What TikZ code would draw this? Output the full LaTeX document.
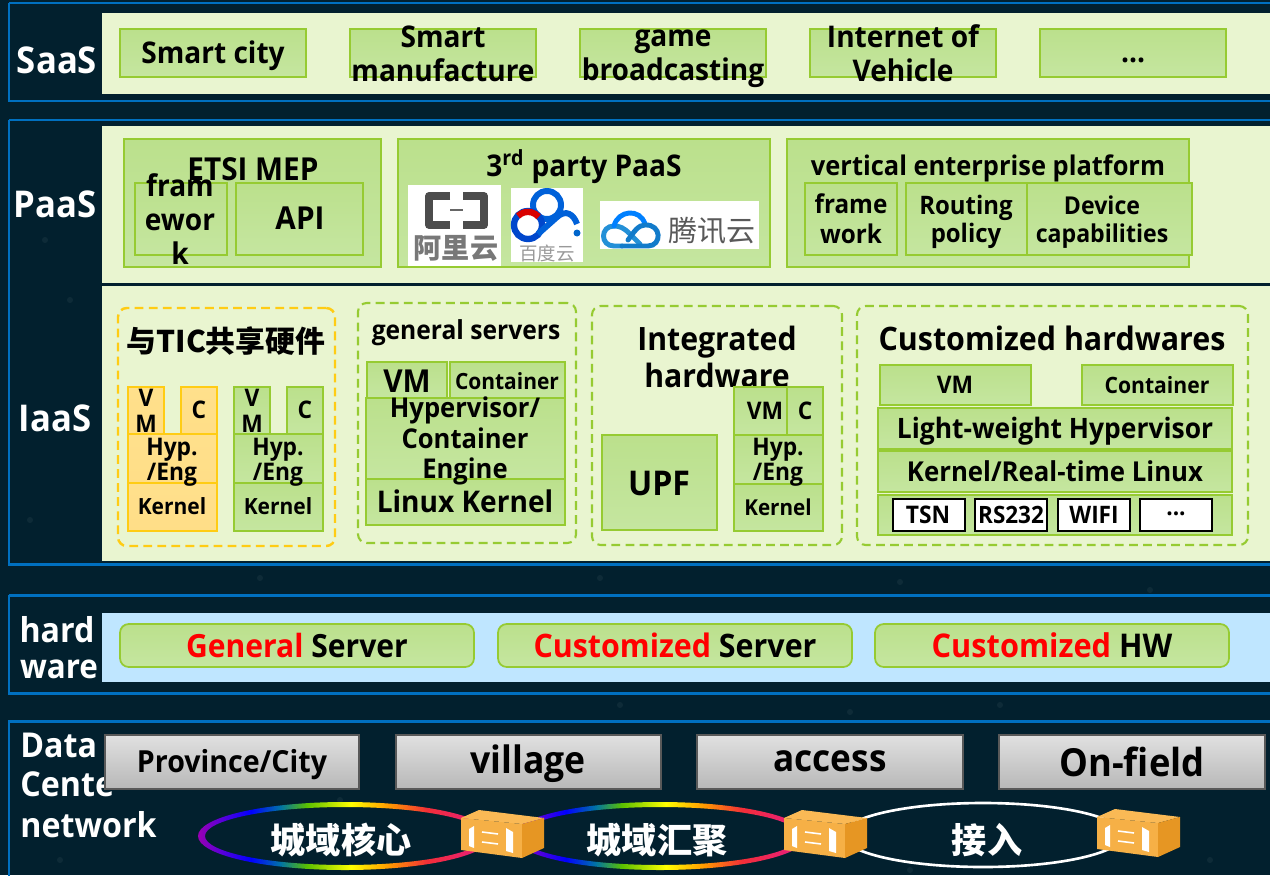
\documentclass[tikz,border=0pt]{standalone}
\usepackage{fontspec}
\setmainfont{Open Sans}[FakeStretch=0.94]
\newfontfamily\cjk{Noto Sans CJK SC}
\usetikzlibrary{calc}
\definecolor{bgc}{RGB}{2,32,46}
\definecolor{framec}{RGB}{0,112,192}
\definecolor{panelg}{RGB}{233,245,208}
\definecolor{panelb}{RGB}{191,230,255}
\definecolor{gborder}{RGB}{150,203,50}
\definecolor{gtop}{RGB}{187,224,140}
\definecolor{gbot}{RGB}{197,230,160}
\definecolor{ytop}{RGB}{255,224,140}
\definecolor{ybot}{RGB}{255,222,135}
\definecolor{yborder}{RGB}{255,204,20}
\definecolor{logog}{RGB}{120,120,120}
\definecolor{boxor}{RGB}{246,176,70}
\definecolor{boxdk}{RGB}{230,150,35}
\definecolor{boxtp}{RGB}{250,185,85}
\definecolor{rga}{rgb}{0.6,0,0.7}
\definecolor{rgb}{rgb}{0.35,0,0.85}
\definecolor{rgc}{rgb}{0,0,1}
\definecolor{rgd}{rgb}{0,0.45,0.65}
\definecolor{rge}{rgb}{0.35,0.75,0}
\definecolor{rgf}{rgb}{1,1,0}
\definecolor{rgg}{rgb}{1,0.6,0}
\definecolor{rgh}{rgb}{0.95,0.18,0.22}
\definecolor{rgi}{rgb}{0.9,0.1,0.55}
\pgfdeclarehorizontalshading{rainbowring}{100bp}{
  color(0bp)=(rga);
  color(25bp)=(rga);
  color(29bp)=(rgb);
  color(34bp)=(rgc);
  color(39bp)=(rgd);
  color(43.5bp)=(rge);
  color(51bp)=(rgf);
  color(57.5bp)=(rgg);
  color(64bp)=(rgh);
  color(75bp)=(rgi);
  color(100bp)=(rgi)}
\tikzset{
  frameb/.style={draw=framec,line width=1.7pt},
  gbox/.style={draw=gborder,line width=1pt,top color=gtop,bottom color=gbot,inner sep=0pt},
  ybox/.style={draw=yborder,line width=1pt,top color=ytop,bottom color=ybot,inner sep=0pt},
  rbox/.style={gbox,rounded corners=5pt},
  wbox/.style={draw=black,line width=1pt,fill=white,inner sep=0pt},
  dbox/.style={draw=black!65,line width=1pt,top color=black!12,bottom color=black!28,inner sep=0pt},
  dashg/.style={draw=gborder,line width=1.2pt,dashed,dash pattern=on 5pt off 3pt,rounded corners=5pt,inner sep=0pt},
  dashy/.style={draw=yborder,line width=1.4pt,dashed,dash pattern=on 5pt off 3pt,rounded corners=5pt,inner sep=0pt},
  logobg/.style={fill=white,inner sep=0pt},
  ptext/.style={inner sep=0pt,align=center,text=black},
  wtext/.style={inner sep=0pt,align=center,text=white},
  swbox/.pic={
    \fill[boxor] (0,8)--(61,14)--(61,48)--(0,40)--cycle;
    \fill[boxtp] (0,8)--(18,0)--(83,8)--(61,14)--cycle;
    \fill[boxdk] (61,14)--(83,8)--(83,38)--(61,48)--cycle;
    \fill[white] (8,19)--(13,16)--(13,38)--(8,36)--cycle;
    \fill[white] (45,18)--(52,22)--(52,43)--(45,41)--cycle;
    \draw[white,line width=.9pt] (21,22)--(37,24) (21,32)--(37,34);
  }
}
\newcommand\bx[6]{\pgfmathsetmacro\bw{(#5-#3)*0.02}\pgfmathsetmacro\bh{(#6-#4)*0.02}
  \node[#1,minimum width=\bw cm,minimum height=\bh cm] (#2) at ({(#3+#5)/2},{(#4+#6)/2}) {};}
\newcommand\tx[7][ptext]{\node[#1,font=\fontsize{#5pt}{#6pt}\selectfont\bfseries] (#2) at (#3,#4) {#7};}
\begin{document}
\begin{tikzpicture}[x=0.02cm,y=-0.02cm]
\useasboundingbox (0,0) rectangle (1270,875);
\fill[bgc] (0,0) rectangle (1270,875);
\foreach \sx/\sy in {45/240,70/300,30/520,620/705,850/712,1150/590,1000/705,340/800,910/870,60/860,1210/860,600/578,260/578,900/582}
  \fill[white,opacity=.05] (\sx,\sy) circle (3);
% frames
\draw[frameb] (9,3) -- (1272,3) (1272,101) -- (9,101) -- (9,3);
\draw[frameb] (9,120) -- (1272,120) (1272,564) -- (9,564) -- (9,120);
\draw[frameb] (9,595) -- (1272,595) (1272,693) -- (9,693) -- (9,595);
\draw[frameb] (9,877) -- (9,721) -- (1272,721);
% panels
\fill[panelg] (102,13) rectangle (1270,94);
\fill[panelg] (102,126) rectangle (1270,283);
\fill[panelg] (102,286) rectangle (1270,561);
\fill[panelb] (102,613) rectangle (1270,682);
% side labels
\tx[wtext]{lsaas}{57}{60}{21}{24}{SaaS}
\tx[wtext]{lpaas}{55}{204}{21}{24}{PaaS}
\tx[wtext]{liaas}{55}{418}{21}{24}{IaaS}
\tx[wtext]{lhard}{57}{630}{19.5}{22}{hard}
\tx[wtext]{lware}{59}{669}{19}{22}{ware}
\node[wtext,anchor=west,font=\fontsize{19.5pt}{22pt}\selectfont\bfseries] (ldata) at (20,745) {Data};
\node[wtext,anchor=west,font=\fontsize{19.5pt}{22pt}\selectfont\bfseries] (lcent) at (20,784) {Cente};
\node[wtext,anchor=west,font=\fontsize{19.5pt}{22pt}\selectfont\bfseries] (lnet) at (20,825) {network};
% SaaS
\bx{gbox}{s1}{120}{29}{306}{77}
\bx{gbox}{s2}{350}{29}{536}{77}
\bx{gbox}{s3}{580}{29}{766}{77}
\bx{gbox}{s4}{810}{29}{996}{77}
\bx{gbox}{s5}{1040}{29}{1226}{77}
\tx{ts1}{213}{56}{17}{19}{Smart city}
\tx{ts2}{443}{54}{17}{19}{Smart\\[.5pt]manufacture}
\tx{ts3}{673}{59}{17}{19}{game\\[.5pt]broadcasting}
\tx{ts4}{903}{53.5}{17}{19}{Internet of\\[.5pt]Vehicle}
\tx{ts5}{1133}{60}{17}{19}{...}
% PaaS
\bx{gbox}{p1}{124}{139}{381}{267}
\bx{gbox}{p1a}{135}{183}{227}{255}
\bx{gbox}{p1b}{236}{183}{363}{255}
\tx{tp1}{253}{169}{18}{19}{ETSI MEP}
\tx{tp1a}{180}{219}{17}{19.5}{fram\\ewor\\k}
\tx{tp1b}{300}{218}{18}{19}{API}
\bx{gbox}{p2}{398}{139}{770}{267}
\tx{tp2}{584}{167}{17}{19}{3\textsuperscript{rd} party PaaS}
\bx{gbox}{p3}{787}{139}{1189}{267}
\bx{gbox}{p3a}{805}{183}{897}{255}
\bx{gbox}{p3b}{906}{183}{1027}{255}
\bx{gbox}{p3c}{1027}{183}{1192}{255}
\tx{tp3}{988}{168.5}{15.4}{19}{vertical enterprise platform}
\tx{tp3a}{851}{219}{14.7}{17}{frame\\work}
\tx{tp3b}{966}{222}{14.5}{16}{Routing\\policy}
\tx{tp3c}{1102}{222}{14}{16}{Device\\capabilities}
% logos
\bx{logobg}{ali}{408}{185}{501}{266}
\draw[black!70,line width=4.4pt,line join=round] (450,196)--(429,196)--(429,225)--(450,225);
\draw[black!70,line width=4.4pt,line join=round] (463,196)--(484,196)--(484,225)--(463,225);
\draw[black!60,line width=.8pt] (450,210)--(463,210);
\node[inner sep=0pt,text=logog,font=\cjk\fontsize{16pt}{16pt}\selectfont\bfseries] (alit) at (456,248) {阿里云};
\bx{logobg}{bai}{511}{188}{583}{262}
\draw[blue!55!cyan!85!black,line width=3.4pt] (547,205) circle (14);
\draw[blue!65!cyan!80!black,line width=3.6pt] (528,225) circle (14);
\draw[red!85!black,line width=3.6pt] (518,216) arc (225:320:14);
\draw[blue!55!cyan!85!black,line width=3.4pt] (538,234) -- (556,218) .. controls (566,208) and (574,215) .. (577,224);
\fill[blue!50!cyan!80!black] (577,233) circle (3.5);
\node[inner sep=0pt,text=black!40,font=\cjk\fontsize{10.5pt}{11pt}\selectfont] (bait) at (547,253) {百度云};
\bx{logobg}{ten}{600}{201}{759}{249}
\draw[cyan!70!blue!90,line width=2.8pt,line cap=round] (622,246) -- (614,246) .. controls (600,246) and (600,226) .. (614,226) .. controls (620,226) and (624,228) .. (630,234) -- (640,244);
\draw[blue!50!cyan,line width=2.8pt,line cap=round] (614,226) .. controls (618,210) and (640,208) .. (645,224);
\draw[cyan!60!blue,line width=2.8pt,line cap=round] (622,246) -- (648,246) .. controls (662,246) and (662,224) .. (645,225) .. controls (638,225) and (634,232) .. (628,240);
\node[inner sep=0pt,text=black!65,font=\cjk\fontsize{16.5pt}{17pt}\selectfont] (tent) at (712,231) {腾讯云};
% IaaS: shared hardware
\bx{dashy}{i1}{118}{308}{335}{546}
\node[ptext,font=\cjk\fontsize{17pt}{19pt}\selectfont\bfseries] (ti1) at (226,341) {与TIC共享硬件};
\bx{ybox}{y1}{128}{387}{164}{434}
\bx{ybox}{y2}{181}{387}{217}{434}
\bx{ybox}{y3}{128}{434}{217}{483}
\bx{ybox}{y4}{128}{483}{217}{531}
\tx{ty1}{146}{411}{13.8}{14.5}{V\\M}
\tx{ty2}{199}{410}{13.8}{15}{C}
\tx{ty3}{172}{462}{13.8}{14.5}{Hyp.\\/Eng}
\tx{ty4}{172}{506}{12.7}{15}{Kernel}
\bx{gbox}{g1}{234}{387}{270}{434}
\bx{gbox}{g2}{287}{387}{323}{434}
\bx{gbox}{g3}{234}{434}{323}{483}
\bx{gbox}{g4}{234}{483}{323}{531}
\tx{tg1}{252}{411}{13.8}{14.5}{V\\M}
\tx{tg2}{305}{410}{13.8}{15}{C}
\tx{tg3}{278}{462}{13.8}{14.5}{Hyp.\\/Eng}
\tx{tg4}{278}{506}{12.7}{15}{Kernel}
% general servers
\bx{dashg}{i2}{358}{303}{576}{543}
\tx{ti2}{466}{333}{14.9}{16}{general servers}
\bx{gbox}{a1}{367}{362}{447}{398}
\bx{gbox}{a2}{450}{362}{565}{398}
\bx{gbox}{a3}{366}{398}{565}{479}
\bx{gbox}{a4}{366}{479}{565}{525}
\tx{ta1}{407}{381}{18}{19}{VM}
\tx{ta2}{507}{381}{12.7}{15}{Container}
\tx{ta3}{465}{441}{15.5}{17.2}{Hypervisor/\\Container\\Engine}
\tx{ta4}{465}{501}{17}{19}{Linux Kernel}
% integrated
\bx{dashg}{i3}{592}{306}{842}{545}
\tx{ti3}{717}{357}{18.3}{21.5}{Integrated\\hardware}
\bx{gbox}{u1}{602}{435}{717}{530}
\bx{gbox}{u2}{734}{387}{787}{435}
\bx{gbox}{u3}{787}{387}{823}{435}
\bx{gbox}{u4}{734}{435}{823}{484}
\bx{gbox}{u5}{734}{484}{823}{531}
\tx{tu1}{659}{483}{19.4}{20}{UPF}
\tx{tu2}{765}{411}{13.8}{15}{VM}
\tx{tu3}{805}{411}{13.8}{15}{C}
\tx{tu4}{778}{462}{13.8}{14.5}{Hyp.\\/Eng}
\tx{tu5}{778}{507}{12.5}{15}{Kernel}
% customized
\bx{dashg}{i4}{857}{306}{1248}{545}
\tx{ti4}{1052}{338}{18.4}{20}{Customized hardwares}
\bx{gbox}{c1}{880}{365}{1031}{405}
\bx{gbox}{c2}{1082}{365}{1233}{405}
\bx{gbox}{c3}{878}{408}{1232}{449}
\bx{gbox}{c4}{878}{451}{1232}{492}
\bx{gbox}{c5}{878}{495}{1232}{535}
\bx{wbox}{c6}{893}{499}{965}{531}
\bx{wbox}{c7}{975}{499}{1047}{531}
\bx{wbox}{c8}{1058}{499}{1130}{531}
\bx{wbox}{c9}{1140}{499}{1212}{531}
\tx{tc1}{955}{385}{13.8}{15}{VM}
\tx{tc2}{1157}{385}{12.8}{15}{Container}
\tx{tc3}{1055}{431}{16}{18}{Light-weight Hypervisor}
\tx{tc4}{1055}{471}{15.6}{17}{Kernel/Real-time Linux}
\tx{tc6}{928}{515}{13.8}{15}{TSN}
\tx{tc7}{1011}{515}{13.6}{15}{RS232}
\tx{tc8}{1094}{515}{13.7}{15}{WIFI}
\tx{tc9}{1176}{514}{13.7}{15}{...}
% hardware
\bx{rbox}{h1}{120}{624}{474}{667}
\bx{rbox}{h2}{498}{624}{852}{667}
\bx{rbox}{h3}{875}{624}{1229}{667}
\tx{th1}{297}{645}{18.2}{19}{\textcolor{red}{General} Server}
\tx{th2}{675}{645}{18.4}{19}{\textcolor{red}{Customized} Server}
\tx{th3}{1052}{645}{18.6}{19}{\textcolor{red}{Customized} HW}
% data centre
\bx{dbox}{d1}{105}{735}{359}{789}
\bx{dbox}{d2}{396}{735}{661}{789}
\bx{dbox}{d3}{697}{735}{963}{789}
\bx{dbox}{d4}{999}{735}{1265}{789}
\tx{td1}{232}{765}{17.3}{18}{Province/City}
\tx{td2}{528}{764}{21.5}{22}{village}
\tx{td3}{830}{761}{21.3}{22}{access}
\tx{td4}{1132}{762}{22}{22}{On-field}
% rings
\coordinate (r1) at (345,836);
\coordinate (r2) at (660,836);
\coordinate (r3) at (983,835);
\path[shading=rainbowring,even odd rule] (r1) ellipse [x radius=147,y radius=34] (r1) ellipse [x radius=140,y radius=29];
\path[shading=rainbowring,even odd rule] (r2) ellipse [x radius=147,y radius=34] (r2) ellipse [x radius=140,y radius=29];
\draw[white,line width=1.5pt] (r3) ellipse [x radius=140,y radius=32];
\node[wtext,font=\cjk\fontsize{20pt}{22pt}\selectfont\bfseries] (t1) at (341,840) {城域核心};
\node[wtext,font=\cjk\fontsize{20pt}{22pt}\selectfont\bfseries] (t2) at (657,840) {城域汇聚};
\node[wtext,font=\cjk\fontsize{20pt}{22pt}\selectfont\bfseries] (t3) at (987,840) {接入};
\pic at (461,810) {swbox};
\pic at (784,810) {swbox};
\pic at (1097,809) {swbox};
\end{tikzpicture}
\end{document}
